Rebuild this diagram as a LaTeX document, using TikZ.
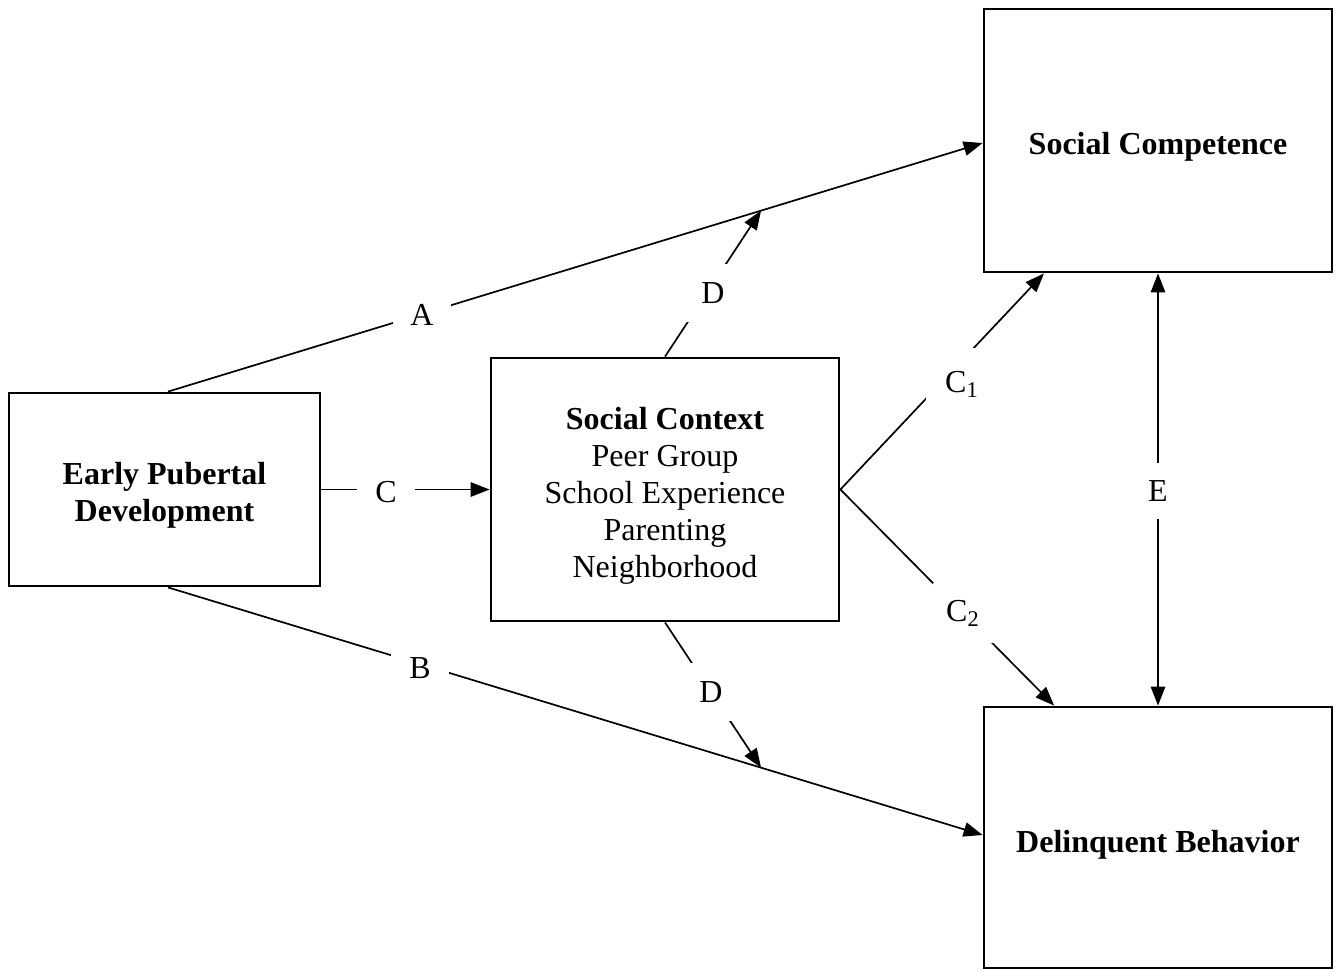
\documentclass[tikz,border=0pt]{standalone}
\usepackage{fontspec}
\setmainfont{Liberation Serif}
\usetikzlibrary{arrows.meta,calc}
\begin{document}
\begin{tikzpicture}[x=0.5pt,y=-0.5pt,
  font=\fontsize{16}{18.5}\selectfont,
  box/.style={draw,line width=1.4pt,inner sep=0pt},
  txt/.style={align=center,inner sep=0pt},
  tip/.style={Triangle[length=9.5pt,width=7.2pt]},
  conn/.style={line width=0.85pt},
  arr/.style={conn,-{Triangle[length=9.5pt,width=7.2pt]}},
  lbl/.style={fill=white,inner sep=0pt,minimum width=29pt,minimum height=29pt}]
\useasboundingbox (0,0) rectangle (1342,971);
% boxes
\node[box,minimum width=155.5pt,minimum height=96.5pt] (epd) at (164.5,489.5) {};
\node[box,minimum width=174pt,minimum height=131.5pt] (ctx) at (665,489.5) {};
\node[box,minimum width=174pt,minimum height=131.5pt] (scomp) at (1158,140.5) {};
\node[box,minimum width=174pt,minimum height=130.5pt] (dbeh) at (1158,837.5) {};
% box texts
\node[txt] (epdT) at ($(epd)+(0,6)$) {\bfseries Early Pubertal\\\bfseries Development};
\node[txt] (ctxT) at ($(ctx)+(0,6)$) {\bfseries Social Context\\Peer Group\\School Experience\\Parenting\\Neighborhood};
\node[txt] (scompT) at ($(scomp)+(0,6)$) {\bfseries Social Competence};
\node[txt] (dbehT) at ($(dbeh)+(0,7)$) {\bfseries Delinquent Behavior};
% helper coordinates
\coordinate (aS) at ($(epd.north)+(3.5,0)$);
\coordinate (bS) at ($(epd.south)+(3.5,0)$);
\coordinate (aE) at ($(scomp.west)+(0,2.5)$);
\coordinate (bE) at ($(dbeh.west)+(0,-2.5)$);
\coordinate (dU) at ($(aS)!0.728!(aE)$);
\coordinate (dL) at ($(bS)!0.728!(bE)$);
\coordinate (c1E) at ($(scomp.south west)!0.175!(scomp.south east)$);
\coordinate (c2E) at ($(dbeh.north west)!0.204!(dbeh.north east)$);
% connectors
\draw[arr] (aS) -- (aE);
\draw[arr] (bS) -- (bE);
\draw[arr] (epd.east) -- (ctx.west);
\draw[arr] (ctx.north) -- (dU);
\draw[arr] (ctx.south) -- (dL);
\draw[arr] (ctx.east) -- (c1E);
\draw[arr] (ctx.east) -- (c2E);
\draw[conn,{Triangle[length=9.5pt,width=7.2pt]}-{Triangle[length=9.5pt,width=7.2pt]}] (scomp.south) -- (dbeh.north);
% labels
\node[lbl] (la) at (422,315) {A};
\node[lbl] (lb) at (420,668) {B};
\node[lbl] (lc) at (386,492) {C};
\node[lbl] (ldu) at (713,293) {D};
\node[lbl] (ldl) at (711,692) {D};
\node[lbl,minimum width=36pt,minimum height=36pt] (lc1) at (962,384) {C\textsubscript{1}};
\node[lbl,minimum width=30pt,minimum height=30pt] (lc2) at (963,613) {C\textsubscript{2}};
\node[lbl,minimum height=28pt] (le) at (1158,491) {E};
\end{tikzpicture}
\end{document}
